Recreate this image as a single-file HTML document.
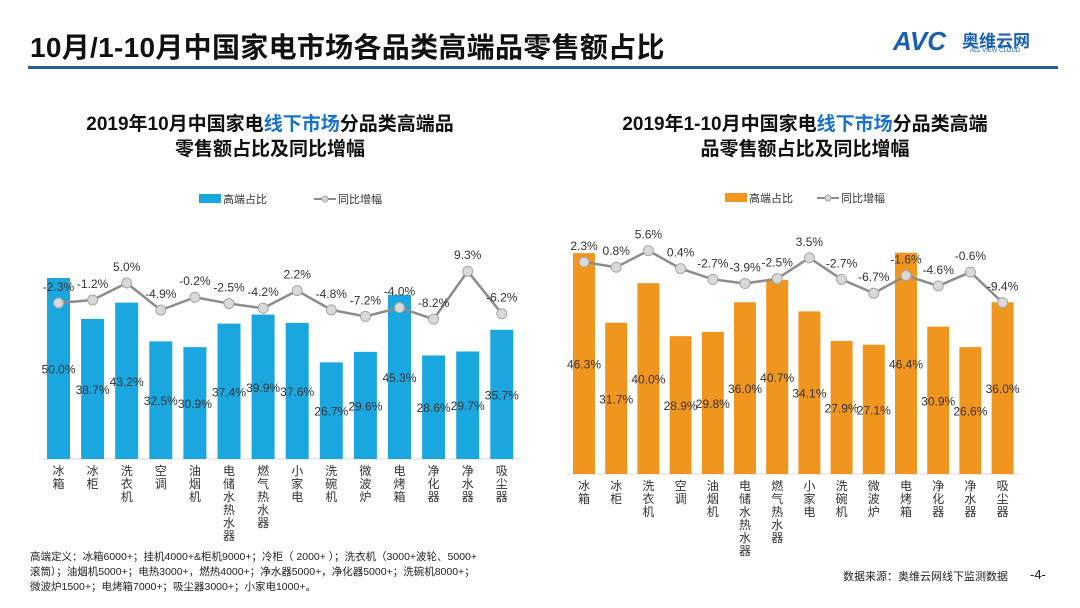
<!DOCTYPE html>
<html><head><meta charset="utf-8">
<style>
body{margin:0;width:1080px;height:608px;background:#fff;overflow:hidden;font-family:"Liberation Sans","Noto Sans CJK SC",sans-serif;}
.abs{position:absolute;}
</style></head>
<body>
<div style="position:relative;width:1080px;height:608px;">
<div class="abs" style="left:30px;top:26px;font-size:28px;font-weight:bold;color:#111;letter-spacing:0.3px;">10月/1-10月中国家电市场各品类高端品零售额占比</div>
<div class="abs" style="left:28px;top:66px;width:1030px;height:3px;background:#2a5c9a;"></div>
<div class="abs" style="left:893px;top:26px;font-size:26px;font-weight:bold;font-style:italic;color:#1a5fb0;">AVC</div>
<div class="abs" style="left:962px;top:27px;font-size:17px;font-weight:bold;color:#1a5fb0;">奥维云网</div>
<div class="abs" style="left:970px;top:48px;font-size:6px;color:#1a5fb0;">ALL VIEW CLOUD</div>
<div class="abs" style="left:30px;top:112px;width:480px;text-align:center;font-size:19px;font-weight:bold;line-height:25px;color:#111;">2019年10月中国家电<span style="color:#1a73c8">线下市场</span>分品类高端品<br>零售额占比及同比增幅</div>
<div class="abs" style="left:560px;top:112px;width:490px;text-align:center;font-size:19px;font-weight:bold;line-height:25px;color:#111;">2019年1-10月中国家电<span style="color:#1a73c8">线下市场</span>分品类高端<br>品零售额占比及同比增幅</div>
<svg class="abs" style="left:0;top:0" width="1080" height="608" id="svg"></svg>
<div class="abs" style="left:30px;top:550px;font-size:10.5px;line-height:15px;color:#222;">高端定义：冰箱6000+；挂机4000+&amp;柜机9000+；冷柜（ 2000+ ）；洗衣机（3000+波轮、5000+<br>滚筒）；油烟机5000+；电热3000+，燃热4000+；净水器5000+，净化器5000+；洗碗机8000+；<br>微波炉1500+；电烤箱7000+；吸尘器3000+；小家电1000+。</div>
<div class="abs" style="left:843px;top:568px;font-size:11px;color:#222;">数据来源：奥维云网线下监测数据</div>
<div class="abs" style="left:1030px;top:567px;font-size:13px;color:#222;">-4-</div>
</div>
<script>
const categories=["冰箱","冰柜","洗衣机","空调","油烟机","电储水热水器","燃气热水器","小家电","洗碗机","微波炉","电烤箱","净化器","净水器","吸尘器"];
const leftShare=[50.0,38.7,43.2,32.5,30.9,37.4,39.9,37.6,26.7,29.6,45.3,28.6,29.7,35.7];
const leftGrowth=[-2.3,-1.2,5.0,-4.9,-0.2,-2.5,-4.2,2.2,-4.8,-7.2,-4.0,-8.2,9.3,-6.2];
const rightShare=[46.3,31.7,40.0,28.9,29.8,36.0,40.7,34.1,27.9,27.1,46.4,30.9,26.6,36.0];
const rightGrowth=[2.3,0.8,5.6,0.4,-2.7,-3.9,-2.5,3.5,-2.7,-6.7,-1.6,-4.6,-0.6,-9.4];
const svg=document.getElementById('svg');
const NS='http://www.w3.org/2000/svg';
function mk(tag,attrs,parent){const e=document.createElementNS(NS,tag);for(const k in attrs)e.setAttribute(k,attrs[k]);(parent||svg).appendChild(e);return e;}
function fmt(v){return v.toFixed(1)+'%';}
function chart(cfg){
  const g=mk('g',{});
  
  
  const xc=i=>cfg.x0+i*cfg.pitch;
  const yb=v=>cfg.base-v*cfg.barScale;
  const yl=v=>cfg.lineZero-v*cfg.lineScale;
  const ax=mk('line',{x1:xc(0)-cfg.bw/2-6,x2:xc(13)+cfg.bw/2+6,y1:cfg.base,y2:cfg.base,stroke:'#d9d9d9','stroke-width':1},g);
  
  
  cfg.share.forEach((v,i)=>{
    const r=mk('rect',{x:xc(i)-cfg.bw/2,y:yb(v),width:cfg.bw,height:cfg.base-yb(v),fill:cfg.color},g);
    
    
    const t=mk('text',{x:xc(i),y:(yb(v)+cfg.base)/2+5,'text-anchor':'middle','font-size':12,fill:'#333'},g);
    t.textContent=fmt(v);
    
    
  });
  let d='';
  cfg.growth.forEach((v,i)=>{d+=(i?'L':'M')+xc(i)+','+yl(v);});
  const p=mk('path',{d:d,fill:'none',stroke:'#8c8c8c','stroke-width':2.5,'stroke-linejoin':'round'},g);
  
  
  cfg.growth.forEach((v,i)=>{
    const c=mk('circle',{cx:xc(i),cy:yl(v),r:5,fill:'#d9d9d9',stroke:'#a6a6a6','stroke-width':1},g);
    
    
    const t=mk('text',{x:xc(i),y:yl(v)-12,'text-anchor':'middle','font-size':12,fill:'#333'},g);
    t.textContent=fmt(v);
    
    
  });
  categories.forEach((c,i)=>{
    [...c].forEach((ch,j)=>{
      const t=mk('text',{x:xc(i),y:cfg.base+16+j*13,'text-anchor':'middle','font-size':12,fill:'#333'},g);
      t.textContent=ch;
      
      
    });
  });
  const lx=cfg.legX;
  const lr=mk('rect',{x:lx,y:cfg.legY-5,width:22,height:9,fill:cfg.color},g);
  
  
  const lt=mk('text',{x:lx+24,y:cfg.legY+4,'font-size':11,fill:'#333'},g);lt.textContent='高端占比';
  
  
  const ll=mk('line',{x1:lx+cfg.legGap,x2:lx+cfg.legGap+22,y1:cfg.legY,y2:cfg.legY,stroke:'#8c8c8c','stroke-width':2},g);
  
  
  mk('circle',{cx:lx+cfg.legGap+11,cy:cfg.legY,r:3,fill:'#d9d9d9',stroke:'#a6a6a6'},g);
  const lt2=mk('text',{x:lx+cfg.legGap+24,y:cfg.legY+4,'font-size':11,fill:'#333'},g);lt2.textContent='同比增幅';
  
  
}
chart({name:'left-chart',x0:58.5,pitch:34.1,bw:23,base:459,barScale:3.62,lineZero:296.7,lineScale:2.74,share:leftShare,growth:leftGrowth,color:'#1aa7e0',legX:199,legY:199,legGap:115});
chart({name:'right-chart',x0:584,pitch:32.2,bw:22,base:474,barScale:4.77,lineZero:270,lineScale:3.47,share:rightShare,growth:rightGrowth,color:'#f0961e',legX:725,legY:198,legGap:92});
</script>
</body></html>
